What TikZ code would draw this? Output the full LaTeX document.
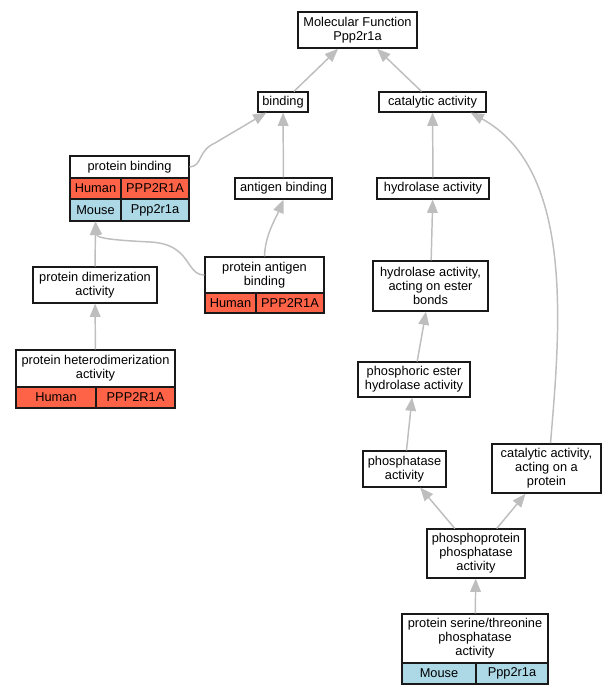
\documentclass[tikz,border=0pt]{standalone}
\usepackage{fontspec}
\setmainfont{Liberation Sans}
\usetikzlibrary{arrows.meta,calc}
\definecolor{human}{HTML}{FF6347}
\definecolor{mouse}{HTML}{ADD8E6}
\definecolor{edgec}{HTML}{BEBEBE}
\begin{document}
\begin{tikzpicture}[x=0.75pt,y=-0.75pt,
  box/.style={draw=black!90, line width=0.8pt, fill=white, inner sep=0pt, align=center, font=\fontsize{9.6}{10.5}\selectfont},
  sz/.style 2 args={minimum width=#1*0.75pt, minimum height=#2*0.75pt},
  hum/.style={box, fill=human},
  mou/.style={box, fill=mouse},
  bold/.style={line width=1.2pt},
  rel/.style={draw=edgec, line width=1.1pt, -{Triangle[length=10pt,width=8pt]}}]
\useasboundingbox (0,0) rectangle (615,696);
\node[box,bold,sz={119}{36}] (mf) at (357.5,30) {Molecular Function\\Ppp2r1a};
\node[box,sz={50}{20}] (bind) at (283,102) {binding};
\node[box,sz={107}{20}] (cat) at (432.5,102) {catalytic activity};
\node[box,sz={119}{22}] (pbt) at (129.5,167) {protein binding};
\node[hum,sz={51}{21}] (pbh1) at (95.5,188.5) {Human};
\node[hum,sz={68}{21}] (pbh2) at (155,188.5) {PPP2R1A};
\node[mou,sz={51}{22}] (pbm1) at (95.5,210) {Mouse};
\node[mou,sz={68}{22}] (pbm2) at (155,210) {Ppp2r1a};
\node[box,sz={97}{21}] (ab) at (283.5,188.5) {antigen binding};
\node[box,sz={112}{21}] (hy) at (433,188.5) {hydrolase activity};
\node[box,sz={124}{36}] (pd) at (95,285) {protein dimerization\\activity};
\node[box,sz={119}{36}] (pabt) at (264.5,275) {protein antigen\\binding};
\node[hum,sz={51}{20}] (pabh1) at (230.5,303) {Human};
\node[hum,sz={68}{20}] (pabh2) at (290,303) {PPP2R1A};
\node[box,sz={115}{50}] (he) at (430.5,286) {hydrolase activity,\\acting on ester\\bonds};
\node[box,sz={159}{37}] (hdt) at (95.5,368.5) {protein heterodimerization\\activity};
\node[hum,sz={80}{21}] (hdh1) at (56,397.5) {Human};
\node[hum,sz={79}{21}] (hdh2) at (135.5,397.5) {PPP2R1A};
\node[box,sz={112}{35}] (pe) at (414,379.5) {phosphoric ester\\hydrolase activity};
\node[box,sz={83}{36}] (pa) at (404.5,469) {phosphatase\\activity};
\node[box,bold,sz={109}{49}] (cp) at (546.5,468.5) {catalytic activity,\\acting on a\\protein};
\node[box,sz={98}{49}] (pp) at (476,553.5) {phosphoprotein\\phosphatase\\activity};
\node[box,sz={146}{49}] (stt) at (475,638.5) {protein serine/threonine\\phosphatase\\activity};
\node[mou,sz={74}{21}] (stm1) at (439,673.5) {Mouse};
\node[mou,sz={72}{21}] (stm2) at (512,673.5) {Ppp2r1a};
\draw[rel] (bind) -- (mf);
\draw[rel] (cat) -- (mf);
\draw[rel] (pbt.east) .. controls (203,166) and (197,151) .. (215,143) -- ($(bind.south west)+(9,0)$);
\draw[rel] (ab) -- (bind);
\draw[rel] (hy) -- (cat);
\draw[rel] (pabt.north) .. controls (265,235) and (276,218) .. (ab.south);
\draw[rel] (pabt.west) .. controls (185,275) and (192,244) .. (150,242) .. controls (110,240) and (97,238) .. (pbm1.south);
\draw[rel] (pd) -- (pbm1);
\draw[rel] (hdt) -- (pd);
\draw[rel] (he) -- (hy);
\draw[rel] (pe) -- (he);
\draw[rel] (pa) -- (pe);
\draw[rel] (pp) -- (pa);
\draw[rel] (pp) -- (cp);
\draw[rel] ($(cp.north)+(4,0)$) .. controls (560,330) and (575,170) .. ($(cat.south east)+(-16,0)$);
\draw[rel] (stt) -- (pp);
\end{tikzpicture}
\end{document}
